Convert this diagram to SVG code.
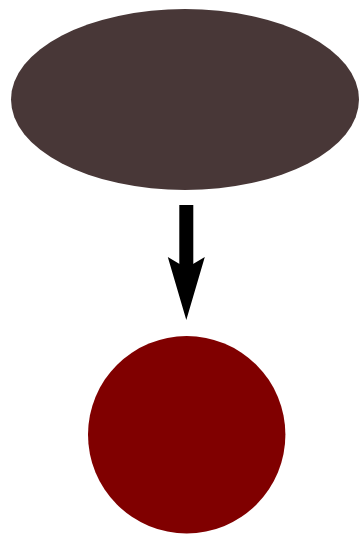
<svg xmlns="http://www.w3.org/2000/svg" width="359" height="536" viewBox="0 0 359 536">
  <style>
    .edge { stroke: #000000; stroke-width: 14; fill: none; }
  </style>
  <defs>
    <marker id="arrowhead" markerUnits="userSpaceOnUse" markerWidth="70" markerHeight="40" viewBox="0 -20 70 40" refX="13" refY="0" orient="auto">
      <path d="M0,-18.5 L63,0 L0,18.5 L11,0 Z" fill="#000000"/>
    </marker>
  </defs>
  <rect width="359" height="536" fill="#ffffff"/>
  <g id="connectors">
    <line class="edge" x1="186.3" y1="205" x2="186.3" y2="270" marker-end="url(#arrowhead)"/>
  </g>
  <g id="node-ellipse">
    <ellipse cx="185" cy="99.5" rx="174" ry="90.5" fill="#483737"/>
  </g>
  <g id="node-circle">
    <circle cx="186.7" cy="434.7" r="98.7" fill="#800000"/>
  </g>
</svg>
